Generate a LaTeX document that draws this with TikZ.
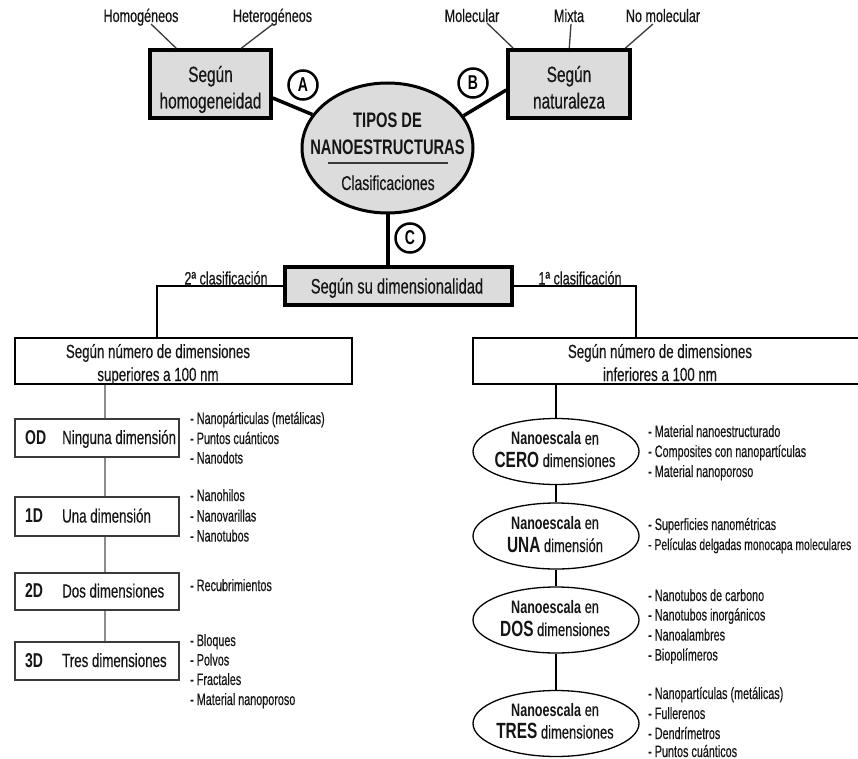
\documentclass[tikz,border=0pt]{standalone}
\usepackage{fontspec}
\setmainfont[FakeStretch=0.7, UprightFeatures={FakeBold=0.35}]{Liberation Sans}
\newfontfamily\itemfont[FakeStretch=0.655, UprightFeatures={FakeBold=0.35}]{Liberation Sans}
\usetikzlibrary{shapes.geometric,calc}
\definecolor{gfill}{HTML}{DCDCDC}
\definecolor{lgray}{HTML}{8C8C8C}
\definecolor{dgray}{HTML}{3A3A3A}
\definecolor{ink}{HTML}{151515}
\newcommand\fz[1]{\fontsize{#1}{#1}\selectfont}
\begin{document}
\begin{tikzpicture}[x=1pt,y=-1pt,
  gbox/.style={draw=black, line width=3.5, fill=gfill, rectangle, inner sep=0},
  circ/.style={circle, draw=black, line width=2.5, fill=white, minimum size=29, inner sep=0, font=\bfseries\fz{20}},
  txt/.style={inner sep=0, anchor=base, text=ink},
  lbl/.style={txt, font=\fz{18}},
  item/.style={inner sep=0, anchor=base west, text=ink, font=\itemfont\fz{16.5}},
  dbox/.style={draw=dgray, line width=1.2, rectangle, minimum width=164, inner sep=0},
  nell/.style={ellipse, draw=black, line width=1.3, fill=white, minimum width=166, minimum height=66, inner sep=0},
  thinl/.style={draw=dgray, line width=1.3},
  thickl/.style={draw=black, line width=3.5},
  conn/.style={draw=black, line width=1.1}]
\useasboundingbox (0,0) rectangle (858,759);
\fill[white] (0,0) rectangle (858,759);

% ---- top boxes
\node[gbox, minimum width=121, minimum height=68] (hom) at (210.5,84) {};
\node[txt, font=\fz{22}] (homT1) at (210.5,82) {Según};
\node[txt, font=\fz{22}] (homT2) at (210.5,108.5) {homogeneidad};
\node[gbox, minimum width=122, minimum height=68] (nat) at (569,84) {};
\node[txt, font=\fz{22}] (natT1) at (569,82) {Según};
\node[txt, font=\fz{22}] (natT2) at (569,108.5) {naturaleza};

\node[lbl] (lHom) at (141,22) {Homogéneos};
\node[lbl] (lHet) at (272.5,22) {Heterogéneos};
\node[lbl] (lMol) at (472,22) {Molecular};
\node[lbl] (lMix) at (569,22) {Mixta};
\node[lbl] (lNoM) at (663,22) {No molecular};

\draw[thinl] ($(lHom.base)+(10,2)$) -- ($(hom.north west)+(28,0)$);
\draw[thinl] ($(lHet.base)+(0.5,2)$) -- ($(hom.north west)+(93,0)$);
\draw[thinl] ($(lMol.base)+(15,1)$) -- ($(nat.north west)+(7,0)$);
\draw[thinl] ($(lMix.base)+(2,2)$) -- ($(nat.north west)+(63,0)$);
\draw[thinl] ($(lNoM.base)+(-10,2)$) -- ($(nat.north west)+(119,0)$);

% ---- main ellipse
\node[ellipse, draw=black, line width=3, fill=gfill, minimum width=171, minimum height=130, inner sep=0] (main) at (387.5,148) {};
\node[txt, font=\bfseries\fz{21}] (mT1) at (387.5,128) {TIPOS DE};
\node[txt, font=\bfseries\fz{21}] (mT2) at (387.5,155) {NANOESTRUCTURAS};
\node[txt, font=\fz{20}] (mT3) at (388,190) {Clasificaciones};
\draw[draw=dgray, line width=1.3] ($(main.center)+(-60,15)$) -- ($(main.center)+(60,15)$);

\draw[thickl] ($(hom.east)+(0,14)$) -- (main.156);
\draw[thickl] (main.23) -- ($(nat.west)+(0,6)$);

% ---- dimensionality box
\node[gbox, minimum width=227, minimum height=38] (dim) at (398.5,286) {};
\node[txt, font=\fz{21}] (dimT) at (397,293.5) {Según su dimensionalidad};
\draw[draw=black, line width=4] (main.south) -- (main.south |- dim.north);

\node[circ] (cA) at (303,85) {A};
\node[circ] (cB) at (473,83) {B};
\node[circ] (cC) at (410,238) {C};

% ---- second-level boxes
\node[draw=black, line width=1.2, rectangle, minimum width=337, minimum height=46, inner sep=0] (lbox) at (183.5,361) {};
\node[txt, font=\fz{19}] (lbT1) at (158,358) {Según número de dimensiones};
\node[txt, font=\fz{19}] (lbT2) at (158,381) {superiores a 100 nm};
\node[draw=black, line width=1.2, rectangle, minimum width=400, minimum height=46, inner sep=0] (rbox) at (673,361) {};
\node[txt, font=\fz{19}] (rbT1) at (660,358) {Según número de dimensiones};
\node[txt, font=\fz{19}] (rbT2) at (660,381) {inferiores a 100 nm};

\coordinate (lk) at (157,0);
\coordinate (rk) at (636,0);
\draw[conn] (dim.west) -| (lk |- lbox.north);
\draw[conn] (dim.east) -| (rk |- rbox.north);
\node[txt, font=\fz{18}] (c2) at (226,284.5) {2ª clasificación};
\node[txt, font=\fz{18}] (c1) at (580,284.5) {1ª clasificación};

% ---- left chain
\node[dbox, minimum height=38] (d0) at (97,438) {};
\node[dbox, minimum height=39] (d1) at (97,516.5) {};
\node[dbox, minimum height=37] (d2) at (97,591.5) {};
\node[dbox, minimum height=38] (d3) at (97,661) {};
\coordinate (lx) at (105,0);
\draw[draw=lgray, line width=1.5] (lx |- lbox.south) -- (lx |- d0.north);
\draw[draw=lgray, line width=1.5] (lx |- d0.south) -- (lx |- d1.north);
\draw[draw=lgray, line width=1.5] (lx |- d1.south) -- (lx |- d2.north);
\draw[draw=lgray, line width=1.5] (lx |- d2.south) -- (lx |- d3.north);

\node[txt, anchor=base west, font=\bfseries\fz{20}] (d0a) at (25,444) {OD};
\node[txt, anchor=base west, font=\fz{19}] (d0b) at (62,444) {Ninguna dimensión};
\node[txt, anchor=base west, font=\bfseries\fz{20}] (d1a) at (25,522.5) {1D};
\node[txt, anchor=base west, font=\fz{19}] (d1b) at (62,522.5) {Una dimensión};
\node[txt, anchor=base west, font=\bfseries\fz{20}] (d2a) at (25,597.5) {2D};
\node[txt, anchor=base west, font=\fz{19}] (d2b) at (62,597.5) {Dos dimensiones};
\node[txt, anchor=base west, font=\bfseries\fz{20}] (d3a) at (25,667) {3D};
\node[txt, anchor=base west, font=\fz{19}] (d3b) at (62,667) {Tres dimensiones};

\node[item] (l01) at (190,424) {- Nanopárticulas (metálicas)};
\node[item] (l02) at (190,444) {- Puntos cuánticos};
\node[item] (l03) at (190,463.5) {- Nanodots};
\node[item] (l11) at (190,501) {- Nanohilos};
\node[item] (l12) at (190,521.5) {- Nanovarillas};
\node[item] (l13) at (190,541.5) {- Nanotubos};
\node[item] (l21) at (190,591) {- Recubrimientos};
\node[item] (l31) at (190,646) {- Bloques};
\node[item] (l32) at (190,665.5) {- Polvos};
\node[item] (l33) at (190,685) {- Fractales};
\node[item] (l34) at (190,705) {- Material nanoporoso};

% ---- right chain
\node[nell] (e0) at (556,451.5) {};
\node[nell] (e1) at (556,536) {};
\node[nell] (e2) at (556,620) {};
\node[nell] (e3) at (556,723.5) {};
\coordinate (rx) at (556,0);
\draw[conn] (rx |- rbox.south) -- (e0.north);
\draw[conn] (e0.south) -- (e1.north);
\draw[conn] (e1.south) -- (e2.north);
\draw[conn] (e2.south) -- (e3.north);

\node[txt, font=\fz{18}] (e0a) at (555,444.5) {\textbf{Nanoescala} en};
\node[txt, font=\fz{18.5}] (e0b) at (555,467) {{\bfseries\fz{22}CERO} dimensiones};
\node[txt, font=\fz{18}] (e1a) at (555,529) {\textbf{Nanoescala} en};
\node[txt, font=\fz{18.5}] (e1b) at (555,552) {{\bfseries\fz{22}UNA} dimensión};
\node[txt, font=\fz{18}] (e2a) at (555,613) {\textbf{Nanoescala} en};
\node[txt, font=\fz{18.5}] (e2b) at (555,636) {{\bfseries\fz{22}DOS} dimensiones};
\node[txt, font=\fz{18}] (e3a) at (555,716) {\textbf{Nanoescala} en};
\node[txt, font=\fz{18.5}] (e3b) at (555,738.5) {{\bfseries\fz{22}TRES} dimensiones};

\node[item] (r01) at (648,437) {- Material nanoestructurado};
\node[item] (r02) at (648,457) {- Composites con nanopartículas};
\node[item] (r03) at (648,477) {- Material nanoporoso};
\node[item] (r11) at (648,530) {- Superficies nanométricas};
\node[item, font=\itemfont\fz{15.8}] (r12) at (648,550) {- Películas delgadas monocapa moleculares};
\node[item] (r21) at (648,601) {- Nanotubos de carbono};
\node[item] (r22) at (648,620.5) {- Nanotubos inorgánicos};
\node[item] (r23) at (648,640.5) {- Nanoalambres};
\node[item] (r24) at (648,660.5) {- Biopolímeros};
\node[item] (r31) at (648,699) {- Nanopartículas (metálicas)};
\node[item] (r32) at (648,719) {- Fullerenos};
\node[item] (r33) at (648,739) {- Dendrímetros};
\node[item] (r34) at (648,757) {- Puntos cuánticos};
\end{tikzpicture}
\end{document}
